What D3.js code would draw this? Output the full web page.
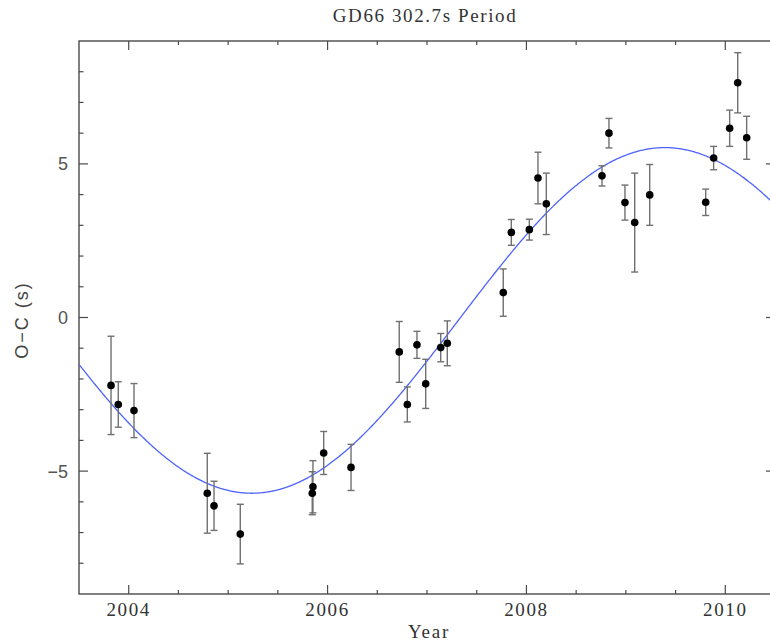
<!DOCTYPE html>
<html>
<head>
<meta charset="utf-8">
<script src="https://cdn.jsdelivr.net/npm/d3@7"></script>
<style>
  body { margin: 0; background: #fff; }
  svg { display: block; }
</style>
</head>
<body>
<svg id="chart" width="770" height="642"></svg>
<script>
// Pulse arrival-time residuals (observed minus computed) for GD66
const epochs = [2003.822, 2003.895, 2004.053, 2004.790, 2004.858, 2005.122, 2005.853, 2005.846,
                2005.961, 2006.236, 2006.721, 2006.802, 2006.899, 2006.987, 2007.138, 2007.204,
                2007.767, 2007.848, 2008.029, 2008.116, 2008.200, 2008.760, 2008.830, 2008.991,
                2009.089, 2009.240, 2009.803, 2009.883, 2010.044, 2010.125, 2010.215];
const ocValues = [-2.21, -2.83, -3.03, -5.72, -6.13, -7.05, -5.51, -5.72,
                  -4.41, -4.88, -1.12, -2.83, -0.89, -2.16, -0.98, -0.84,
                  0.81, 2.77, 2.86, 4.54, 3.70, 4.61, 6.00, 3.74,
                  3.09, 3.99, 3.75, 5.19, 6.16, 7.64, 5.85];
const ocErrors = [1.60, 0.74, 0.88, 1.30, 0.80, 0.97, 0.85, 0.70,
                  0.70, 0.75, 0.99, 0.57, 0.44, 0.80, 0.46, 0.73,
                  0.77, 0.42, 0.34, 0.84, 1.00, 0.33, 0.48, 0.57,
                  1.61, 0.99, 0.43, 0.38, 0.59, 0.98, 0.70];

// Axis ticks
const yearLabels = [2004, 2006, 2008, 2010];
const valueLabels = [-5, 0, 5];

// Best-fit sinusoid: O-C = offset - amplitude * cos(2π (t - tMin) / period)
const fitPeriod = 8.31;      // years
const fitAmplitude = 5.625;  // seconds
const fitMinEpoch = 2005.237;
const fitOffset = -0.095;

const title = "GD66 302.7s Period";
const xTitle = "Year";
const yTitle = "O\u2212C (s)";

const svg = d3.select("#chart");
const plotLeft = 79, plotRight = 775, plotTop = 41, plotBottom = 594;

const x = d3.scaleLinear().domain([2003.5, 2010.5]).range([plotLeft, plotRight]);
const y = d3.scaleLinear().domain([-9, 9]).range([plotBottom, plotTop]);

const axisColor = "#4a4a4a";
const serif = "'Liberation Serif', 'DejaVu Serif', serif";
const sans = "'Liberation Sans', Arial, sans-serif";

// Frame
svg.append("rect")
  .attr("x", plotLeft).attr("y", plotTop)
  .attr("width", plotRight - plotLeft).attr("height", plotBottom - plotTop)
  .attr("fill", "none").attr("stroke", axisColor).attr("stroke-width", 1.4);

// Tick marks on all four sides, pointing inward
const xMinor = d3.range(2004, 2010.51, 0.5).filter(v => !yearLabels.includes(v));
const yMinor = d3.range(-8, 8.01, 1).filter(v => !valueLabels.includes(v));
const ticks = svg.append("g").attr("stroke", axisColor).attr("stroke-width", 1.2);

function xTicks(vals, len) {
  vals.forEach(v => {
    ticks.append("line").attr("x1", x(v)).attr("x2", x(v)).attr("y1", plotBottom).attr("y2", plotBottom - len);
    ticks.append("line").attr("x1", x(v)).attr("x2", x(v)).attr("y1", plotTop).attr("y2", plotTop + len);
  });
}
function yTicks(vals, len) {
  vals.forEach(v => {
    ticks.append("line").attr("y1", y(v)).attr("y2", y(v)).attr("x1", plotLeft).attr("x2", plotLeft + len);
    ticks.append("line").attr("y1", y(v)).attr("y2", y(v)).attr("x1", plotRight).attr("x2", plotRight - len);
  });
}
xTicks(yearLabels, 9);
xTicks(xMinor, 4);
yTicks(valueLabels, 9);
yTicks(yMinor, 4.5);

// Tick labels
svg.append("g").selectAll("text").data(yearLabels).join("text")
  .attr("x", d => x(d)).attr("y", 615.5)
  .attr("text-anchor", "middle")
  .attr("font-family", serif).attr("font-size", 19).attr("letter-spacing", 1.6)
  .attr("fill", "#333")
  .text(d => d);

svg.append("g").selectAll("text").data(valueLabels).join("text")
  .attr("x", 68).attr("y", d => y(d) + 6.5)
  .attr("text-anchor", "end")
  .attr("font-family", sans).attr("font-size", 18)
  .attr("fill", "#555")
  .text(d => d < 0 ? "\u2212" + Math.abs(d) : d);

// Titles
svg.append("text")
  .attr("x", 425).attr("y", 21.5).attr("text-anchor", "middle")
  .attr("font-family", serif).attr("font-size", 19).attr("letter-spacing", 1.6)
  .attr("fill", "#333").text(title);

svg.append("text")
  .attr("x", 429).attr("y", 638).attr("text-anchor", "middle")
  .attr("font-family", serif).attr("font-size", 19).attr("letter-spacing", 1.8)
  .attr("fill", "#333").text(xTitle);

svg.append("text")
  .attr("transform", "translate(28,320) rotate(-90)")
  .attr("text-anchor", "middle")
  .attr("font-family", sans).attr("font-size", 18).attr("letter-spacing", 2)
  .attr("fill", "#444").text(yTitle);

// Clip region for the plot contents
svg.append("clipPath").attr("id", "plot-clip")
  .append("rect").attr("x", plotLeft).attr("y", plotTop)
  .attr("width", plotRight - plotLeft).attr("height", plotBottom - plotTop);

const plot = svg.append("g").attr("clip-path", "url(#plot-clip)");

// Fitted sinusoid
const fitEpochs = d3.range(2003.5, 2010.501, 0.01);
const fitValue = t => fitOffset - fitAmplitude * Math.cos(2 * Math.PI * (t - fitMinEpoch) / fitPeriod);
plot.append("path")
  .datum(fitEpochs)
  .attr("fill", "none")
  .attr("stroke", "#4d63ff")
  .attr("stroke-width", 1.3)
  .attr("d", d3.line().x(t => x(t)).y(t => y(fitValue(t))));

// Error bars
const points = epochs.map((t, i) => ({ t, v: ocValues[i], e: ocErrors[i] }));
const capHalf = 3.5;
const bars = plot.append("g").attr("stroke", "#707070").attr("stroke-width", 1.4);
points.forEach(p => {
  const x0 = x(p.t), yHi = y(p.v + p.e), yLo = y(p.v - p.e);
  bars.append("line").attr("x1", x0).attr("x2", x0).attr("y1", yHi).attr("y2", yLo);
  bars.append("line").attr("x1", x0 - capHalf).attr("x2", x0 + capHalf).attr("y1", yHi).attr("y2", yHi);
  bars.append("line").attr("x1", x0 - capHalf).attr("x2", x0 + capHalf).attr("y1", yLo).attr("y2", yLo);
});

// Data points
plot.append("g").selectAll("circle").data(points).join("circle")
  .attr("cx", d => x(d.t)).attr("cy", d => y(d.v))
  .attr("r", 3.8).attr("fill", "#000");
</script>
</body>
</html>
